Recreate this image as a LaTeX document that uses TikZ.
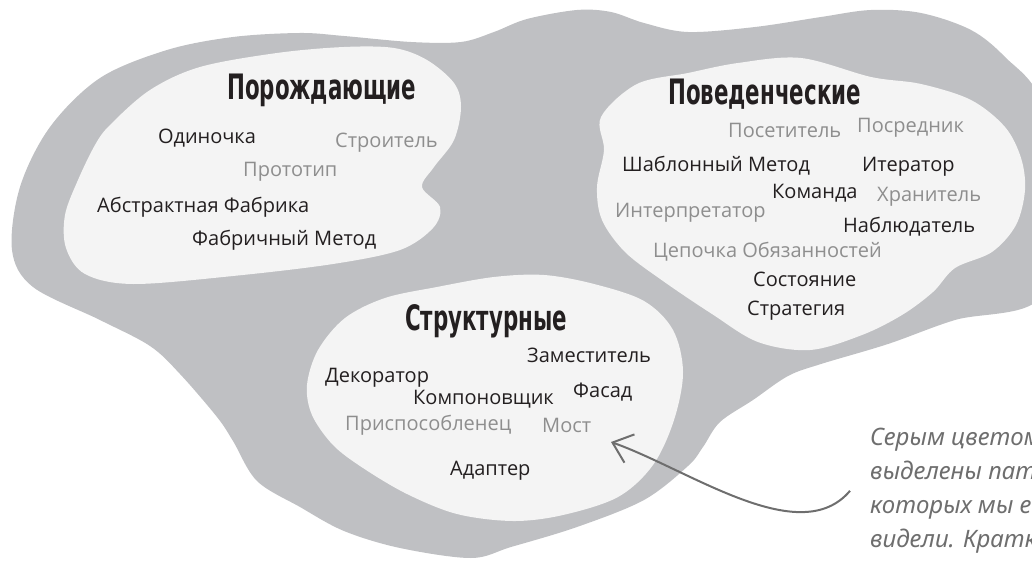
\documentclass[tikz,border=0pt]{standalone}
\usepackage{fontspec}
\setmainfont{Open Sans}
\newfontfamily\headfont[FakeStretch=0.61]{DejaVu Sans}
\newfontfamily\notefont{Noto Sans}
\usetikzlibrary{arrows.meta}
\definecolor{fog}{HTML}{BFC0C3}
\definecolor{paper}{HTML}{F4F4F4}
\definecolor{ink}{HTML}{231F20}
\definecolor{dim}{HTML}{8E8E8E}
\definecolor{pencil}{HTML}{6E6E6E}
\tikzset{
  >=Stealth,
  blob/.style={fill=paper},
  group/.style={anchor=base west,inner sep=0pt,text=ink,font=\headfont\bfseries\fontsize{35}{38}\selectfont},
  pat/.style={anchor=base west,inner sep=0pt,text=ink,font=\fontsize{20}{23}\selectfont},
  unseen/.style={pat,text=dim},
  remark/.style={anchor=north west,inner sep=0pt,align=left,text=pencil,font=\notefont\itshape\fontsize{24}{34}\selectfont}
}

\begin{document}
\begin{tikzpicture}[x=1pt,y=-1pt]
\clip (0,0) rectangle (1032,561);
% outer grey area
\fill[fog] plot[smooth cycle,tension=0.55] coordinates {
  (12,250) (20,187) (50,127) (100,78) (167,50) (233,37) (300,33) (344,36)
  (411,42) (461,42) (494,32) (527,19) (577,10) (611,12) (644,23) (688,32)
  (755,27) (821,17) (871,10) (921,13) (971,30) (1005,57) (1040,100) (1050,200)
  (1040,298) (955,320) (888,344) (821,364) (788,376) (753,400) (720,422) (703,447)
  (688,466) (644,500) (577,527) (511,547) (471,558) (400,548) (344,531) (300,507)
  (257,481) (233,441) (217,417) (180,374) (150,346) (100,320) (33,287)};
% the three groups
\fill[blob] plot[smooth cycle,tension=0.55] coordinates {
  (110,125) (150,90) (200,67) (277,53) (344,47) (394,48) (427,60) (454,83)
  (461,107) (454,140) (434,167) (422,187) (440,207) (433,228) (400,250) (333,264)
  (233,276) (133,284) (85,274) (66,248) (65,215) (78,180) (95,145)};
\fill[blob] plot[smooth cycle,tension=0.55] coordinates {
  (601,117) (637,84) (688,73) (738,63) (801,58) (871,77) (921,84) (971,100)
  (1005,127) (1021,158) (1025,190) (1016,225) (992,252) (955,268) (933,292) (902,315)
  (862,335) (810,350) (758,342) (712,314) (663,281) (625,252) (602,220) (597,187) (604,150)};
\fill[blob] plot[smooth cycle,tension=0.55] coordinates {
  (437,287) (494,277) (544,275) (594,284) (644,301) (673,330) (683,372) (674,420)
  (653,465) (618,497) (563,515) (513,521) (457,514) (407,494) (363,468) (333,445)
  (312,415) (307,385) (318,350) (345,318) (385,298)};

\node[group] (por) at (227,100) {Порождающие};
\node[pat] (odin) at (158,144) {Одиночка};
\node[unseen] (stroit) at (335,148) {Строитель};
\node[unseen] (proto) at (243,177) {Прототип};
\node[pat] (abstr) at (97,213) {Абстрактная Фабрика};
\node[pat] (fabmet) at (192,245) {Фабричный Метод};

\node[group] (pov) at (668,105) {Поведенческие};
\node[unseen] (poset) at (728,138) {Посетитель};
\node[unseen] (posred) at (857,133) {Посредник};
\node[pat] (shabl) at (622,172) {Шаблонный Метод};
\node[pat] (iter) at (862,172) {Итератор};
\node[pat] (koman) at (772,199) {Команда};
\node[unseen] (hran) at (877,202) {Хранитель};
\node[unseen] (interp) at (615,218) {Интерпретатор};
\node[pat] (nabl) at (843,233) {Наблюдатель};
\node[unseen] (cep) at (653,257) {Цепочка Обязанностей};
\node[pat] (sost) at (753,286) {Состояние};
\node[pat] (strat) at (747,315) {Стратегия};

\node[group] (str) at (405,330) {Структурные};
\node[pat] (zam) at (527,362) {Заместитель};
\node[pat] (dek) at (325,382) {Декоратор};
\node[pat] (komp) at (413,404) {Компоновщик};
\node[pat] (fasad) at (573,397) {Фасад};
\node[unseen] (prisp) at (345,430) {Приспособленец};
\node[unseen] (most) at (542,432) {Мост};
\node[pat] (adapt) at (450,475) {Адаптер};

\node[remark] (note) at (870,428) {Серым цветом\\выделены паттерны,\\которых мы еще не\\видели. Кратко};
\coordinate (tip) at (611,442);
\draw[pencil,line width=2pt,-{Straight Barb[length=18pt,width=30pt]}]
  ([xshift=-20pt]note.west) .. controls (800,550) and (690,470) .. (tip);
\end{tikzpicture}
\end{document}
